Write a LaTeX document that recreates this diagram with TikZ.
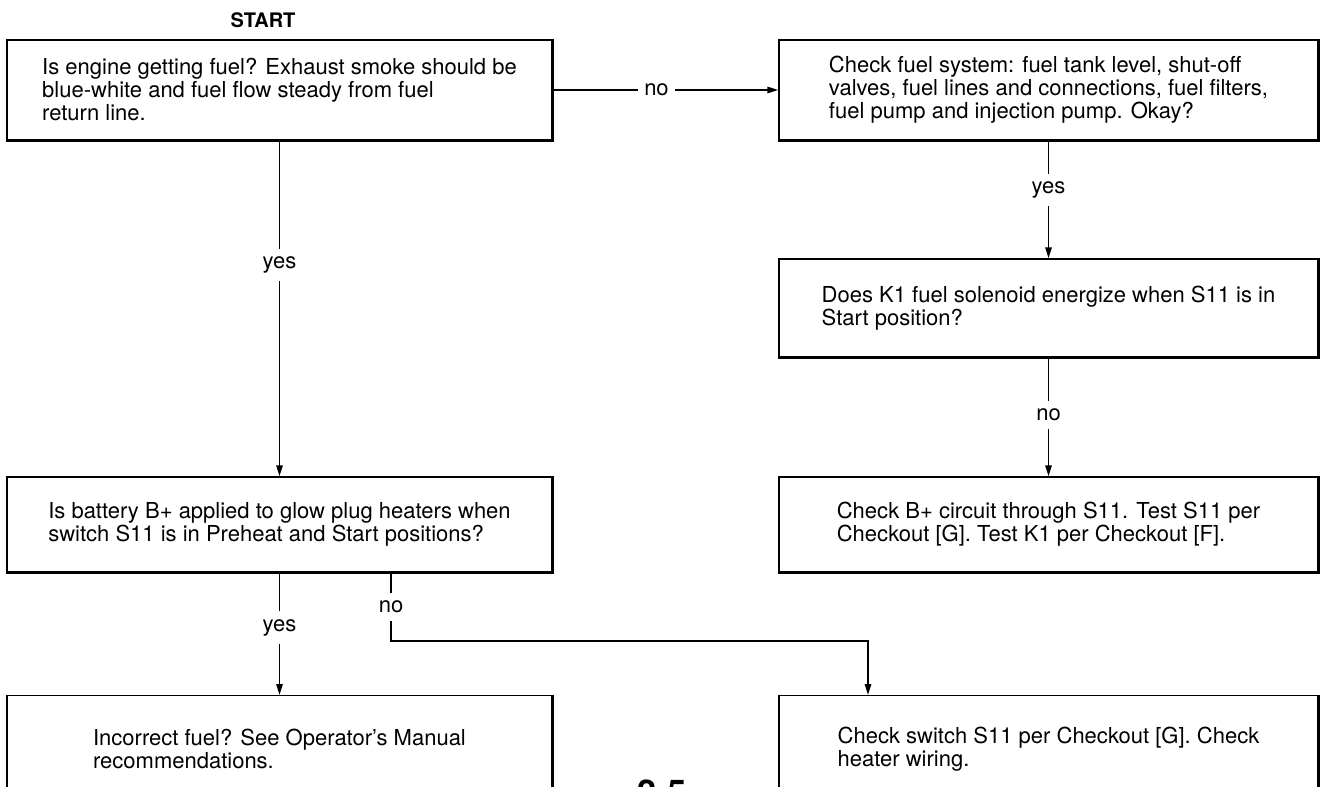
\documentclass[tikz,border=0pt]{standalone}
\usepackage{fontspec}
\setmainfont{TeX Gyre Heros}
\usetikzlibrary{arrows.meta}
\newcommand{\cajafont}{\fontsize{11}{11.5}\selectfont}

\begin{document}
\begin{tikzpicture}[x=0.5pt,y=-0.5pt,
    caja/.style={draw, line width=0.7pt, align=left, font=\cajafont, inner sep=0pt},
    izq/.style={caja, minimum width=272.5pt},
    der/.style={caja, minimum width=269.5pt},
    flecha/.style={line width=0.85pt, -{Triangle[length=5.5pt,width=3.2pt]}},
    etiq/.style={fill=white, font=\cajafont, inner xsep=3pt, inner ysep=4pt}]
    \useasboundingbox (0,0) rectangle (1320,786);
    % Cajas
    \node[font=\fontsize{10}{12}\selectfont\bfseries] (start) at (263,20) {START};
    \node[izq, minimum height=50pt] (fuel) at (279.5,90) {Is engine getting fuel? Exhaust smoke should be\\blue-white and fuel flow steady from fuel\\return line.};
    \node[der, minimum height=50pt] (fuelsys) at (1048.5,90) {Check fuel system: fuel tank level, shut-off\\valves, fuel lines and connections, fuel filters,\\fuel pump and injection pump. Okay?};
    \node[der, minimum height=49pt] (solenoid) at (1048.5,308) {Does K1 fuel solenoid energize when S11 is in\\Start position?};
    \node[der, minimum height=47.5pt] (circuit) at (1048.5,524.5) {Check B+ circuit through S11. Test S11 per\\Checkout [G]. Test K1 per Checkout [F].};
    \node[izq, minimum height=47.5pt] (battery) at (279.5,524.5) {Is battery B+ applied to glow plug heaters when\\switch S11 is in Preheat and Start positions?};
    \node[izq, minimum height=53pt, anchor=north] (wrongfuel) at (279.5,695) {Incorrect fuel? See Operator's Manual\\recommendations.};
    \node[der, minimum height=53pt, anchor=north] (switch) at (1048.5,695) {Check switch S11 per Checkout [G]. Check\\heater wiring.};
    % Numero de pagina
    \node[font=\fontsize{17}{17}\selectfont\bfseries, anchor=base] (page) at (662,804) {2-5};
    % Conexiones
    \draw[flecha] (fuel.east) -- node[etiq, pos=0.46] {no} (fuelsys.west);
    \draw[flecha] (fuel.south) -- node[etiq, pos=0.37] {yes} (battery.north);
    \draw[flecha] (fuelsys.south) -- node[etiq, pos=0.42] {yes} (solenoid.north);
    \draw[flecha] (solenoid.south) -- node[etiq, pos=0.48] {no} (circuit.north);
    \draw[flecha] (battery.south) -- node[etiq, pos=0.45] {yes} (wrongfuel.north);
    \draw[flecha] ([xshift=55.75pt]battery.south) -- node[etiq] {no} ++(0,68) -| ([xshift=-90.25pt]switch.north);
    % Bordes gruesos
    \foreach \c in {fuel,fuelsys,solenoid,circuit,battery,wrongfuel,switch}
        \draw[line width=1.3pt] (\c.north east) -- (\c.south east) -- (\c.south west);
\end{tikzpicture}
\end{document}
